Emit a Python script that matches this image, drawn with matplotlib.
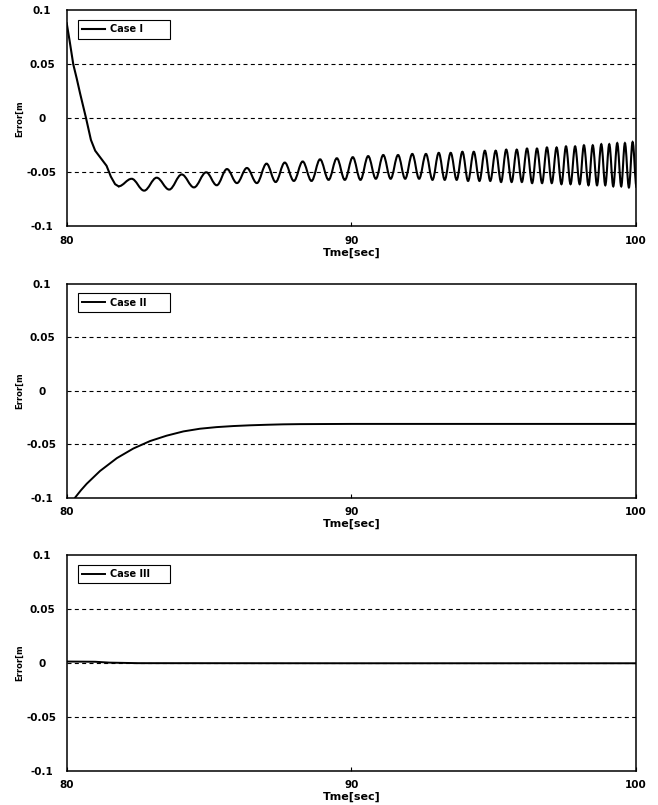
import matplotlib
matplotlib.use("Agg")
import matplotlib.pyplot as plt
from matplotlib.path import Path
from matplotlib.patches import PathPatch
import numpy as np

# time axis / ticks
x_ticks = [80, 90, 100]
y_ticks = [0.1, 0.05, 0, -0.05, -0.1]
y_tick_labels = ['0.1', '0.05', '0', '-0.05', '-0.1']

# Case I - initial drop, then growing oscillation (peaks / troughs)
c1_drop_t = [80.00, 80.10, 80.23, 80.35, 80.47, 80.68, 80.85, 81.00, 81.20, 81.40, 81.55, 81.70]
c1_drop_v = [0.088, 0.072, 0.050, 0.037, 0.023, 0.000, -0.020, -0.030, -0.037, -0.044, -0.054, -0.061]

c1_peak_t = [82.28, 83.16, 84.04, 84.90, 85.63, 86.33, 87.02, 87.66, 88.29, 88.90,
             89.49, 90.05, 90.59, 91.12, 91.64, 92.14, 92.62, 93.07, 93.49, 93.90,
             94.30, 94.69, 95.07, 95.44, 95.81, 96.17, 96.52, 96.87, 97.21, 97.54,
             97.86, 98.17, 98.48, 98.78, 99.06, 99.34, 99.61, 99.88]
c1_peak_v = [-0.056, -0.055, -0.052, -0.050, -0.047, -0.046, -0.042, -0.041, -0.040, -0.038,
             -0.037, -0.036, -0.035, -0.034, -0.034, -0.033, -0.033, -0.032, -0.032, -0.031,
             -0.031, -0.030, -0.030, -0.029, -0.029, -0.028, -0.028, -0.027, -0.027, -0.026,
             -0.026, -0.025, -0.025, -0.024, -0.024, -0.023, -0.023, -0.022]

c1_trough_t = [81.82, 82.72, 83.60, 84.47, 85.27, 85.98, 86.68, 87.34, 87.98, 88.60,
               89.20, 89.77, 90.32, 90.86, 91.38, 91.89, 92.38, 92.85, 93.28, 93.70,
               94.10, 94.50, 94.88, 95.26, 95.63, 95.99, 96.35, 96.70, 97.04, 97.38,
               97.70, 98.02, 98.33, 98.63, 98.92, 99.20, 99.48, 99.75, 100.02]
c1_trough_v = [-0.063, -0.067, -0.066, -0.064, -0.062, -0.060, -0.060, -0.059, -0.058, -0.058,
               -0.057, -0.057, -0.057, -0.056, -0.056, -0.056, -0.056, -0.057, -0.057, -0.057,
               -0.058, -0.058, -0.058, -0.059, -0.059, -0.059, -0.060, -0.060, -0.060, -0.061,
               -0.061, -0.061, -0.062, -0.062, -0.062, -0.063, -0.063, -0.064, -0.064]

# Case II - smooth approach to a constant offset
c2_t = [80.20, 80.29, 80.50, 80.70, 81.17, 81.76, 82.34, 82.93, 83.51, 84.10, 84.68,
        85.26, 85.85, 86.44, 87.03, 87.60, 88.19, 90.0, 95.0, 100.0]
c2_v = [-0.104, -0.100, -0.093, -0.087, -0.075, -0.063, -0.054, -0.047, -0.042, -0.038, -0.0355,
        -0.034, -0.033, -0.0323, -0.0318, -0.0314, -0.0312, -0.031, -0.031, -0.031]

# Case III - stays on zero
c3_t = [80.0, 81.0, 81.5, 82.5, 90.0, 100.0]
c3_v = [0.0012, 0.0010, 0.0002, -0.0003, -0.0004, -0.0004]

labels = ['Case I', 'Case II', 'Case III']

plt.rcParams['font.family'] = ['DejaVu Sans']
plt.rcParams['font.weight'] = 'bold'

fig = plt.figure(figsize=(6.58, 8.05), dpi=100)
left, width = 0.1014, 0.8652
rects = [(left, 0.7189, width, 0.2683),
         (left, 0.3817, width, 0.2658),
         (left, 0.0426, width, 0.2680)]
axes = [fig.add_axes(r) for r in rects]

# case I: drop as a line, oscillation as smooth curve through the extrema
ext_t = np.concatenate([c1_peak_t, c1_trough_t])
ext_v = np.concatenate([c1_peak_v, c1_trough_v])
order = np.argsort(ext_t)
ext_t, ext_v = ext_t[order], ext_v[order]

axes[0].plot(c1_drop_t + [ext_t[0]], c1_drop_v + [ext_v[0]], color='black', lw=1.5,
             label=labels[0], solid_joinstyle='round')
verts = [(ext_t[0], ext_v[0])]
codes = [Path.MOVETO]
for i in range(1, len(ext_t)):
    t0, v0, t1, v1 = ext_t[i - 1], ext_v[i - 1], ext_t[i], ext_v[i]
    dt = t1 - t0
    verts += [(t0 + 0.36 * dt, v0), (t1 - 0.36 * dt, v1), (t1, v1)]
    codes += [Path.CURVE4] * 3
axes[0].add_patch(PathPatch(Path(verts, codes), fill=False, edgecolor='black', lw=1.5))

axes[1].plot(c2_t, c2_v, color='black', lw=1.4, label=labels[1])
axes[2].plot(c3_t, c3_v, color='black', lw=1.4, label=labels[2])

for ax in axes:
    ax.set_xlim(80, 100)
    ax.set_ylim(-0.1, 0.1)
    for g in [0.05, 0, -0.05]:
        ax.axhline(g, color='black', lw=0.8, linestyle=(0, (3.6, 3.0)), zorder=0)
    ax.set_xticks(x_ticks)
    ax.set_xticklabels([str(x) for x in x_ticks], fontsize=7.5, fontweight='bold')
    ax.set_yticks(y_ticks)
    ax.set_yticklabels(y_tick_labels, fontsize=7.5, fontweight='bold')
    ax.tick_params(axis='x', direction='in', length=3, width=0.8, pad=7)
    ax.tick_params(axis='y', length=0, pad=17.8)
    for tl in ax.get_yticklabels():
        tl.set_horizontalalignment('center')
    for sp in ax.spines.values():
        sp.set_linewidth(1.1)
    ax.set_xlabel('Tme[sec]', fontsize=8, fontweight='bold', labelpad=1)
    ax.set_ylabel('Error[m', fontsize=6, fontweight='bold', labelpad=2)
    leg = ax.legend(loc='upper left', bbox_to_anchor=(0.0193, 0, 0.1616, 0.955),
                    mode='expand', borderaxespad=0, fancybox=False, framealpha=1,
                    edgecolor='black', prop={'size': 7, 'weight': 'bold'},
                    handlelength=2.4, handletextpad=0.5, borderpad=0.45)
    leg.get_frame().set_linewidth(0.8)

fig.savefig('out.png', dpi=100)
